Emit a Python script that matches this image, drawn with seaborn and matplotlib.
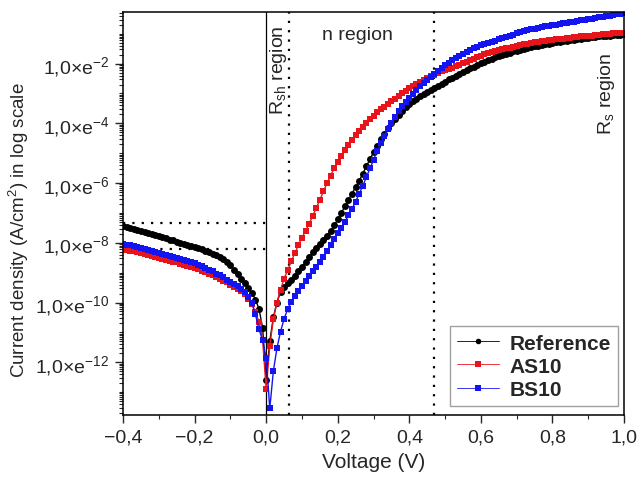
import numpy as np
import pandas as pd
import matplotlib
matplotlib.use("Agg")
import matplotlib.pyplot as plt
import seaborn as sns
from matplotlib.ticker import FixedLocator, FuncFormatter, MultipleLocator, NullFormatter
from matplotlib.lines import Line2D

# ---------------- data ----------------
VOLTAGE = [
    -0.40, -0.39, -0.38, -0.37, -0.36, -0.35, -0.34, -0.33, -0.32, -0.31,
    -0.30, -0.29, -0.28, -0.27, -0.26, -0.25, -0.24, -0.23, -0.22, -0.21,
    -0.20, -0.19, -0.18, -0.17, -0.16, -0.15, -0.14, -0.13, -0.12, -0.11,
    -0.10, -0.09, -0.08, -0.07, -0.06, -0.05, -0.04, -0.03, -0.02, -0.01,
    0.00,
    0.01, 0.02, 0.03, 0.04, 0.05, 0.06, 0.07, 0.08, 0.09, 0.10,
    0.11, 0.12, 0.13, 0.14, 0.15, 0.16, 0.17, 0.18, 0.19, 0.20,
    0.21, 0.22, 0.23, 0.24, 0.25, 0.26, 0.27, 0.28, 0.29, 0.30,
    0.31, 0.32, 0.33, 0.34, 0.35, 0.36, 0.37, 0.38, 0.39, 0.40,
    0.41, 0.42, 0.43, 0.44, 0.45, 0.46, 0.47, 0.48, 0.49, 0.50,
    0.51, 0.52, 0.53, 0.54, 0.55, 0.56, 0.57, 0.58, 0.59, 0.60,
    0.61, 0.62, 0.63, 0.64, 0.65, 0.66, 0.67, 0.68, 0.69, 0.70,
    0.71, 0.72, 0.73, 0.74, 0.75, 0.76, 0.77, 0.78, 0.79, 0.80,
    0.81, 0.82, 0.83, 0.84, 0.85, 0.86, 0.87, 0.88, 0.89, 0.90,
    0.91, 0.92, 0.93, 0.94, 0.95, 0.96, 0.97, 0.98, 0.99, 1.00,
]

# log10 of |J| (A/cm2)
REFERENCE_LOG10 = [
    -7.43, -7.47, -7.50, -7.54, -7.57, -7.61, -7.64, -7.68, -7.71, -7.75,
    -7.78, -7.82, -7.85, -7.89, -7.92, -7.96, -8.00, -8.04, -8.08, -8.11,
    -8.15, -8.18, -8.22, -8.26, -8.31, -8.36, -8.42, -8.48, -8.55, -8.64,
    -8.75, -8.90, -9.06, -9.20, -9.35, -9.50, -9.68, -9.90, -10.22, -10.85,
    -12.60,
    -11.30, -10.50, -10.00, -9.65, -9.47, -9.36, -9.24, -9.10, -8.95, -8.80,
    -8.65, -8.48, -8.32, -8.17, -8.04, -7.90, -7.76, -7.60, -7.42, -7.22,
    -7.00, -6.78, -6.56, -6.35, -6.13, -5.92, -5.68, -5.44, -5.20, -4.97,
    -4.75, -4.54, -4.35, -4.17, -4.00, -3.85, -3.71, -3.58, -3.46, -3.35,
    -3.25, -3.17, -3.09, -3.02, -2.95, -2.88, -2.81, -2.74, -2.67, -2.60,
    -2.53, -2.47, -2.40, -2.34, -2.28, -2.22, -2.16, -2.10, -2.04, -1.98,
    -1.93, -1.87, -1.83, -1.79, -1.75, -1.71, -1.67, -1.63, -1.59, -1.56,
    -1.53, -1.50, -1.47, -1.45, -1.42, -1.40, -1.37, -1.35, -1.33, -1.31,
    -1.29, -1.27, -1.25, -1.23, -1.21, -1.20, -1.18, -1.16, -1.15, -1.13,
    -1.12, -1.10, -1.09, -1.08, -1.07, -1.06, -1.05, -1.04, -1.03, -1.02,
]

AS10_LOG10 = [
    -8.20, -8.23, -8.26, -8.29, -8.32, -8.35, -8.38, -8.41, -8.44, -8.47,
    -8.50, -8.53, -8.56, -8.60, -8.63, -8.66, -8.70, -8.73, -8.77, -8.81,
    -8.85, -8.89, -8.94, -8.99, -9.04, -9.09, -9.15, -9.21, -9.27, -9.33,
    -9.40, -9.47, -9.55, -9.63, -9.73, -9.87, -10.06, -10.32, -10.65, -11.25,
    -12.90,
    -11.45, -10.55, -10.00, -9.58, -9.20, -8.92, -8.62, -8.35, -8.08, -7.83,
    -7.60, -7.36, -7.10, -6.83, -6.56, -6.28, -6.00, -5.75, -5.50, -5.28,
    -5.08, -4.90, -4.72, -4.55, -4.40, -4.25, -4.12, -3.99, -3.86, -3.74,
    -3.63, -3.53, -3.44, -3.35, -3.26, -3.17, -3.08, -3.00, -2.91, -2.83,
    -2.76, -2.69, -2.62, -2.55, -2.49, -2.43, -2.37, -2.31, -2.26, -2.21,
    -2.17, -2.13, -2.08, -2.03, -1.98, -1.93, -1.88, -1.83, -1.78, -1.73,
    -1.69, -1.65, -1.61, -1.58, -1.55, -1.52, -1.49, -1.46, -1.43, -1.40,
    -1.37, -1.35, -1.33, -1.31, -1.29, -1.27, -1.25, -1.23, -1.22, -1.20,
    -1.19, -1.17, -1.16, -1.14, -1.13, -1.12, -1.10, -1.09, -1.08, -1.07,
    -1.06, -1.04, -1.03, -1.02, -1.01, -1.00, -0.99, -0.98, -0.97, -0.96,
]

BS10_LOG10 = [
    -8.03, -8.06, -8.09, -8.12, -8.15, -8.18, -8.21, -8.24, -8.27, -8.30,
    -8.33, -8.37, -8.40, -8.43, -8.46, -8.50, -8.53, -8.56, -8.60, -8.64,
    -8.69, -8.74, -8.79, -8.84, -8.90, -8.96, -9.03, -9.09, -9.16, -9.23,
    -9.30, -9.37, -9.45, -9.54, -9.64, -9.80, -10.02, -10.40, -10.90, -11.26,
    -11.87,
    -13.55, -12.30, -11.53, -10.98, -10.55, -10.22, -9.98, -9.78, -9.60, -9.44,
    -9.28, -9.12, -8.96, -8.80, -8.64, -8.46, -8.27, -8.08, -7.88, -7.68,
    -7.49, -7.29, -7.08, -6.86, -6.62, -6.36, -6.09, -5.80, -5.51, -5.22,
    -4.94, -4.67, -4.42, -4.19, -3.98, -3.78, -3.60, -3.43, -3.28, -3.14,
    -3.01, -2.88, -2.76, -2.65, -2.55, -2.45, -2.35, -2.25, -2.15, -2.06,
    -1.97, -1.89, -1.81, -1.74, -1.67, -1.61, -1.55, -1.49, -1.44, -1.39,
    -1.35, -1.31, -1.27, -1.23, -1.19, -1.15, -1.11, -1.07, -1.03, -0.99,
    -0.95, -0.91, -0.88, -0.85, -0.83, -0.80, -0.78, -0.75, -0.73, -0.71,
    -0.69, -0.67, -0.65, -0.63, -0.61, -0.59, -0.57, -0.55, -0.53, -0.51,
    -0.49, -0.47, -0.45, -0.43, -0.41, -0.39, -0.37, -0.35, -0.33, -0.31,
]

SAMPLES = ["Reference", "AS10", "BS10"]
COLORS = {"Reference": "#000000", "AS10": "#e8141c", "BS10": "#1414f0"}
MARKERS = {"Reference": "o", "AS10": "s", "BS10": "s"}

# annotation guide positions
RSH_LIMIT_V = 0.065
RS_LIMIT_V = 0.47
HLINE_LOG10 = [-7.33, -8.21]

# ---------------- build the figure ----------------
sns.set_style("ticks")
plt.rcParams["font.family"] = ["Liberation Sans", "DejaVu Sans"]
plt.rcParams["mathtext.default"] = "regular"
plt.rcParams["axes.unicode_minus"] = True

records = []
for name, logs in zip(SAMPLES, [REFERENCE_LOG10, AS10_LOG10, BS10_LOG10]):
    for v, lj in zip(VOLTAGE, logs):
        records.append({"Voltage": v, "J": 10.0 ** lj, "Sample": name})
df = pd.DataFrame(records)

fig = plt.figure(figsize=(6.41, 4.81), dpi=100)
ax = fig.add_axes([0.192, 0.135, 0.7815, 0.838])

sns.lineplot(
    data=df, x="Voltage", y="J", hue="Sample", style="Sample",
    hue_order=SAMPLES, style_order=SAMPLES, palette=COLORS,
    markers=MARKERS, dashes=False, markersize=5.0, markeredgewidth=0,
    linewidth=1.0, estimator=None, sort=False, legend=False, ax=ax,
)

ax.set_yscale("log")
ax.set_xlim(-0.4, 1.0)
ax.set_ylim(10 ** -13.77, 10 ** -0.27)

# guide lines
ax.axvline(0.0, color="black", lw=0.9, zorder=1)
for xv in (RSH_LIMIT_V, RS_LIMIT_V):
    ax.axvline(xv, color="black", lw=1.6, ls=(0, (1, 3.2)), zorder=1)
for lv in HLINE_LOG10:
    ax.hlines(10 ** lv, -0.4, 0.0, color="black", lw=1.6, ls=(0, (1, 3.2)), zorder=1)

# region labels
ax.text(0.033, 10 ** -2.2, "R$_{sh}$ region", rotation=90, ha="center", va="center", fontsize=14)
ax.text(0.254, 10 ** -1.03, "n region", ha="center", va="center", fontsize=14)
ax.text(0.95, 10 ** -2.97, "R$_{s}$ region", rotation=90, ha="center", va="center", fontsize=14)

# ticks
major_y = [10.0 ** k for k in range(-14, 1, 2)]
minor_y = [m * 10.0 ** k for k in range(-15, 1) for m in range(1, 10) if not (m == 1 and k % 2 == 0)]
ax.yaxis.set_major_locator(FixedLocator(major_y))
ax.yaxis.set_minor_locator(FixedLocator(minor_y))
ax.yaxis.set_major_formatter(FuncFormatter(lambda y, p: "1,0×e$^{%d}$" % int(round(np.log10(y)))))
ax.yaxis.set_minor_formatter(NullFormatter())

ax.xaxis.set_major_locator(MultipleLocator(0.2))
ax.xaxis.set_minor_locator(MultipleLocator(0.1))
ax.xaxis.set_major_formatter(FuncFormatter(lambda x, p: ("%.1f" % x).replace(".", ",").replace("-", "\u2212")))

ax.tick_params(axis="both", which="major", direction="out", length=6, width=1, labelsize=14, pad=4)
ax.tick_params(axis="both", which="minor", direction="out", length=3, width=0.8)
for s in ax.spines.values():
    s.set_linewidth(1.1)
    s.set_color("black")

ax.set_xlabel("Voltage (V)", fontsize=15, labelpad=4)
ax.set_ylabel("Current density (A/cm$^{2}$) in log scale", fontsize=13.5)
ax.yaxis.set_label_coords(-0.184, 0.46)

# legend
handles = [
    Line2D([], [], color=COLORS[n], lw=0.6, marker=MARKERS[n], markersize=4, markeredgewidth=0)
    for n in SAMPLES
]
leg = ax.legend(
    handles, SAMPLES, loc="lower right", bbox_to_anchor=(0.988, 0.022), borderaxespad=0,
    prop={"weight": "bold", "size": 15}, frameon=True, fancybox=False, handlelength=2.0,
    labelspacing=0.2, handletextpad=0.5, borderpad=0.35,
)
leg.get_frame().set_edgecolor("#888888")
leg.get_frame().set_linewidth(1.0)

fig.savefig("out.png", dpi=100)
